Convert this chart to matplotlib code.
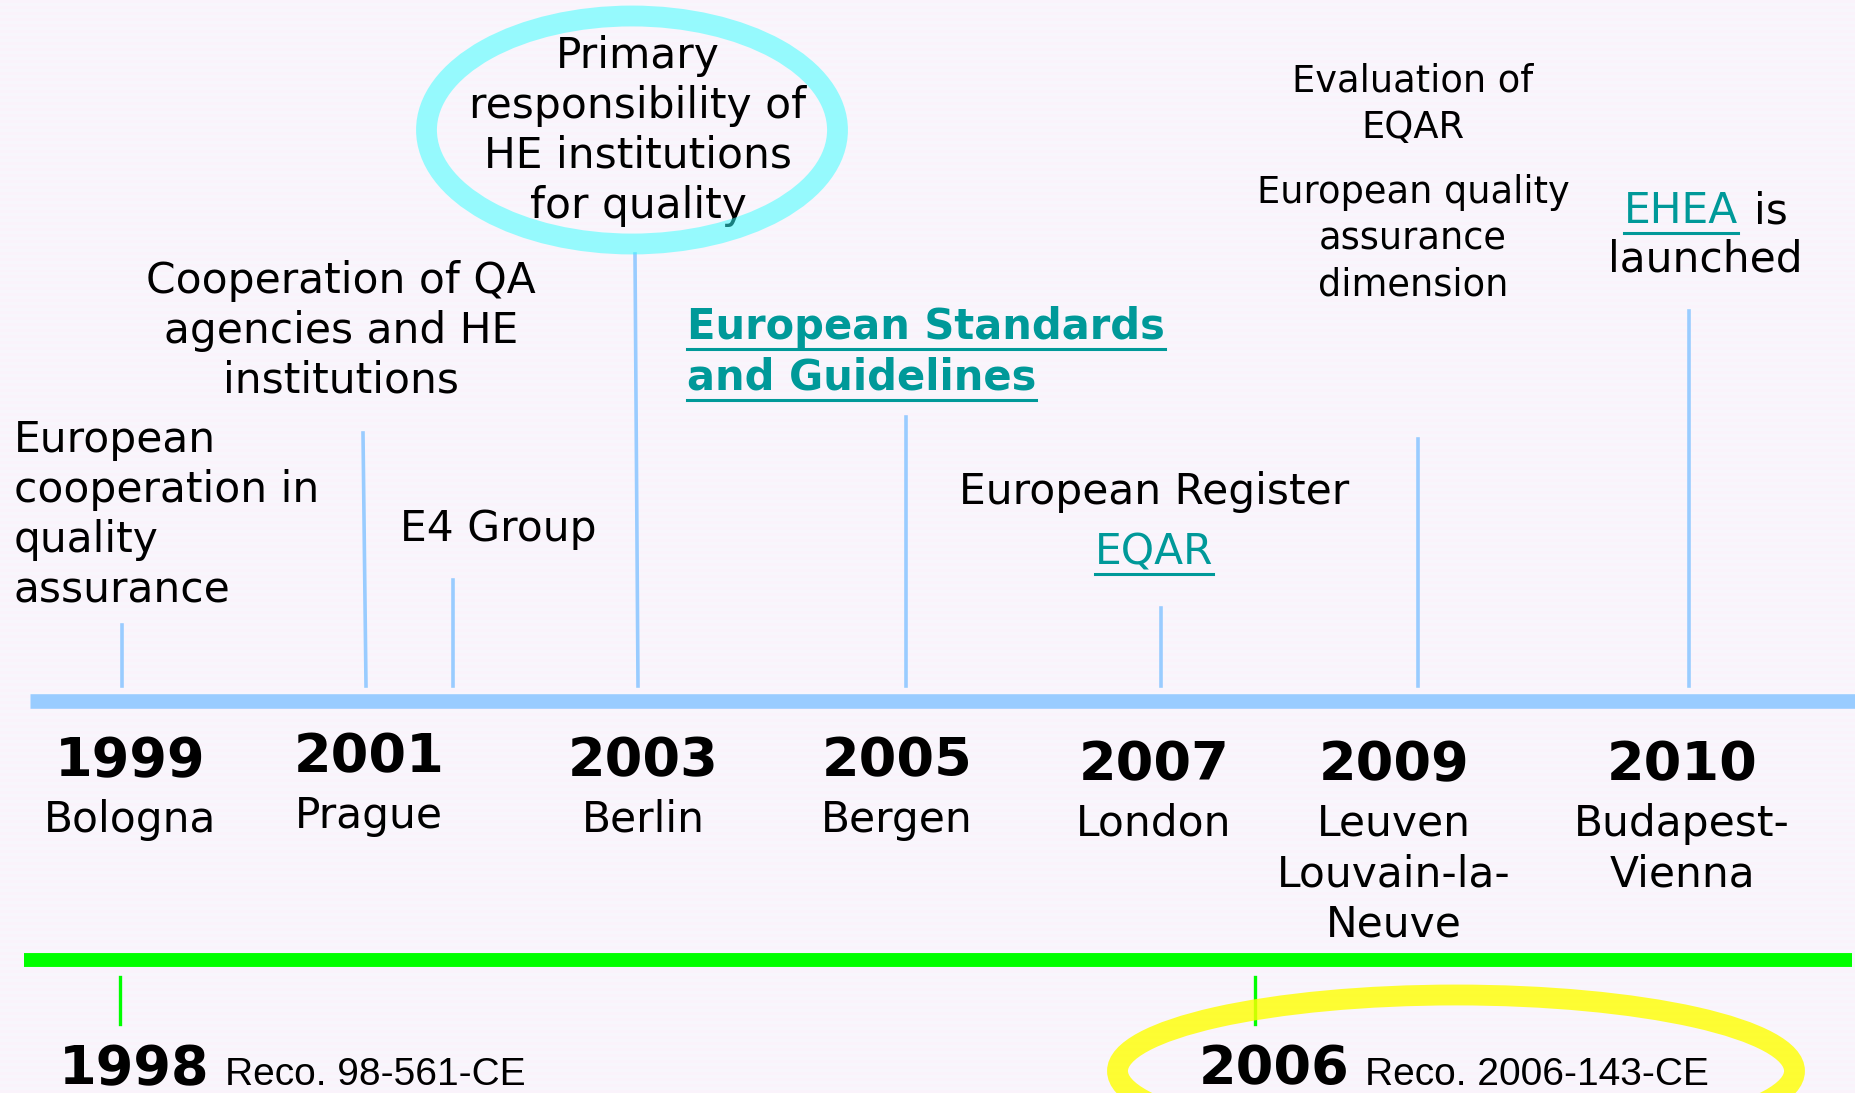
import numpy as np
import matplotlib.pyplot as plt
from matplotlib.patches import Ellipse

# timeline events (Bologna process ministerial meetings)
years = ["1999", "2001", "2003", "2005", "2007", "2009", "2010"]
cities = ["Bologna", "Prague", "Berlin", "Bergen", "London",
          "Leuven\nLouvain-la-\nNeuve", "Budapest-\nVienna"]
year_x = [130, 369, 643, 897, 1154, 1394, 1682]
year_y = [761, 757, 761, 761, 765, 765, 765]

# milestones above the timeline
stem_x = [122, 363, 453, 635, 906, 1161, 1418, 1689]
stem_top = [625, 433, 580, 254, 417, 608, 439, 311]

# council recommendations below
reco_years = ["1998", "2006"]
reco_codes = ["Reco. 98-561-CE", "Reco. 2006-143-CE"]
reco_x = [59, 1199]
reco_tick_x = [120, 1255]

W, H = 1856, 1093
fig = plt.figure(figsize=(W / 100, H / 100), dpi=100)
ax = fig.add_axes([0, 0, 1, 1])
ax.set_xlim(0, W)
ax.set_ylim(H, 0)
ax.axis("off")

# faint striped background
stripes = np.zeros((H // 3 + 1, 1, 3))
stripes[:, 0] = (0.976, 0.965, 0.992)
stripes[::2, 0] = (0.984, 0.953, 0.988)
ax.imshow(stripes, extent=(0, W, H, 0), aspect="auto", interpolation="nearest", zorder=0)

black = "#000000"
teal = "#009999"
light_blue = "#99ccff"

# timelines
ax.plot([30, W], [701, 701], color=light_blue, lw=10.5, solid_capstyle="butt", zorder=2)
ax.plot([24, 1852], [960, 960], color="#00ff00", lw=10, solid_capstyle="butt", zorder=2)

for x0, top in zip(stem_x, stem_top):
    lean = 3 if x0 in (363, 635) else 0
    ax.plot([x0, x0 + lean], [top, 686], color=light_blue, lw=2.6, zorder=2)

for x0 in reco_tick_x:
    ax.plot([x0, x0], [977, 1024], color="#00ff00", lw=2.4, zorder=2)

# years and cities
for yr, city, x0, y0 in zip(years, cities, year_x, year_y):
    ax.text(x0, y0, yr, ha="center", va="center", fontsize=39,
            fontweight="bold", color=black)
    ax.text(x0, y0 + 38, city, ha="center", va="top", fontsize=30.5,
            color=black, linespacing=1.25)

body = dict(fontsize=30.5, color=black, linespacing=1.24)

ax.text(14, 515, "European\ncooperation in\nquality\nassurance", ha="left", va="center", **body)
ax.text(341, 331, "Cooperation of QA\nagencies and HE\ninstitutions", ha="center", va="center", **body)
ax.text(498, 529, "E4 Group", ha="center", va="center", **body)
ax.text(638, 131, "Primary\nresponsibility of\nHE institutions\nfor quality", ha="center", va="center", **body)
ax.text(1154, 492, "European Register", ha="center", va="center", **body)

small = dict(fontsize=26.5, color=black, linespacing=1.32)
ax.text(1413, 104, "Evaluation of\nEQAR", ha="center", va="center", **small)
ax.text(1413, 239, "European quality\nassurance\ndimension", ha="center", va="center", **small)

ax.text(1705, 260, "launched", ha="center", va="center", **body)
ax.text(1754, 211, "is", ha="left", va="center", **body)

links = [
    ax.text(687, 327, "European Standards", ha="left", va="center", fontsize=30,
            fontweight="bold", color=teal),
    ax.text(687, 378, "and Guidelines", ha="left", va="center", fontsize=30,
            fontweight="bold", color=teal),
    ax.text(1154, 552, "EQAR", ha="center", va="center", fontsize=30.5, color=teal),
    ax.text(1624, 211, "EHEA", ha="left", va="center", fontsize=30.5, color=teal),
]

# recommendations
for yr, code, x0 in zip(reco_years, reco_codes, reco_x):
    ax.text(x0, 1069, yr, ha="left", va="center", fontsize=39,
            fontweight="bold", color=black)
    ax.text(x0 + 166, 1075, code, ha="left", va="center", fontsize=28,
            color=black, family=["Liberation Sans", "DejaVu Sans"])

# underline the links
fig.canvas.draw()
inv = ax.transData.inverted()
for t in links:
    bb = t.get_window_extent()
    (x0, y0), (x1, y1) = inv.transform([(bb.x0, bb.y0), (bb.x1, bb.y1)])
    ax.plot([x0, x1], [y0 + 1, y0 + 1], color=teal, lw=2.2, zorder=3)

# highlight ellipses
ax.add_patch(Ellipse((632, 130), 411, 228, fill=False, ec="#33ffff", alpha=0.5,
                     lw=15, zorder=4))
ax.add_patch(Ellipse((1456, 1071), 677, 152, fill=False, ec="#ffff00", alpha=0.8,
                     lw=15, zorder=4))

fig.savefig("out.png", dpi=100)
